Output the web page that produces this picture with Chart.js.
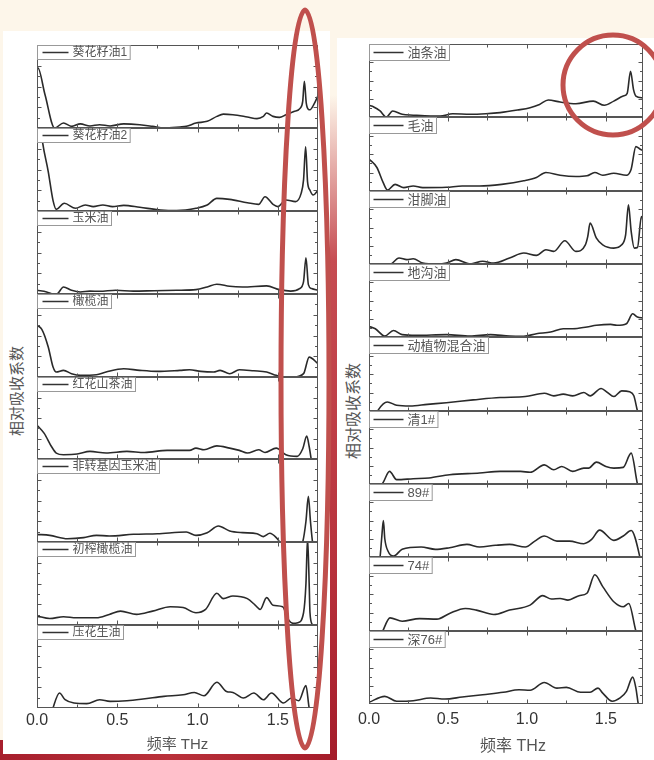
<!DOCTYPE html>
<html>
<head>
<meta charset="utf-8">
<script src="https://cdn.jsdelivr.net/npm/chart.js@4.4.1/dist/chart.umd.min.js"></script>
<style>
  body { margin: 0; width: 654px; height: 760px; overflow: hidden; position: relative; background: #fdf6ea; }
  .abs { position: absolute; }
  .ytitle { position: absolute; transform: translate(-50%, -50%) rotate(-90deg); white-space: nowrap; color: #555; font-family: "Noto Sans CJK SC", sans-serif; }
</style>
</head>
<body>
<div class="abs" style="left:0;top:740px;width:338px;height:20px;background:linear-gradient(90deg,#a71f2d,#b9313a 50%,#a41c2a)"></div>
<div class="abs" style="left:330px;top:95px;width:8px;height:665px;background:linear-gradient(180deg,rgba(196,70,77,0),#c64c52 25%,#b8323c 70%,#a41c2a)"></div>
<div class="abs" style="left:3px;top:31px;width:327px;height:723px;background:#fff"></div>
<div class="abs" style="left:337px;top:38px;width:317px;height:722px;background:#fff"></div>
<div class="ytitle" style="left:15px;top:391px;font-size:15px">相对吸收系数</div>
<div class="ytitle" style="left:352px;top:411px;font-size:16px">相对吸收系数</div>

<script>
// 频率轴范围
const X_MAX_LEFT = 1.75
const X_MAX_RIGHT = 1.735
const xTickLabels = [0, 0.5, 1.0, 1.5]

// 左图
const leftNames = ['葵花籽油1', '葵花籽油2', '玉米油', '橄榄油', '红花山茶油', '非转基因玉米油', '初榨橄榄油', '压花生油']

const sunflower1X = [0, 0.005, 0.05, 0.11, 0.165, 0.215, 0.27, 0.33, 0.39, 0.455, 0.54, 0.64, 0.72, 0.79, 0.89, 0.93, 0.99, 1.06, 1.12, 1.16, 1.22, 1.31, 1.37, 1.41, 1.43, 1.47, 1.51, 1.55, 1.60, 1.64, 1.655, 1.665, 1.677, 1.69, 1.70, 1.725, 1.75]
const sunflower1Y = [2.8, 2.9, 1.6, 0, 0.24, 0.08, 0.2, 0.1, 0.16, 0.1, 0.2, 0.16, 0.08, 0, 0.05, 0.08, 0.24, 0.32, 0.56, 0.67, 0.64, 0.53, 0.45, 0.56, 0.72, 0.56, 0.51, 0.64, 0.8, 0.96, 1.3, 2.25, 1.2, 0.9, 0.88, 1.15, 1.56]

const sunflower2X = [0, 0.035, 0.07, 0.1, 0.12, 0.17, 0.24, 0.30, 0.35, 0.41, 0.47, 0.54, 0.64, 0.77, 0.87, 0.99, 1.06, 1.12, 1.20, 1.31, 1.38, 1.42, 1.47, 1.50, 1.55, 1.61, 1.645, 1.66, 1.673, 1.685, 1.70, 1.72, 1.75]
const sunflower2Y = [5.5, 3.3, 1.9, 0.5, 0.08, 0.37, 0.13, 0.29, 0.21, 0.29, 0.21, 0.27, 0.18, 0.05, 0.02, 0.13, 0.29, 0.61, 0.56, 0.40, 0.32, 0.69, 0.32, 0.21, 0.53, 0.45, 0.85, 1.5, 3.1, 1.4, 1.0, 0.77, 1.0]

const cornX = [0, 0.06, 0.10, 0.125, 0.165, 0.215, 0.27, 0.33, 0.39, 0.49, 0.6, 0.73, 0.87, 0.99, 1.06, 1.12, 1.20, 1.28, 1.43, 1.51, 1.58, 1.635, 1.66, 1.675, 1.69, 1.71, 1.75]
const cornY = [0.18, 0.1, -0.02, 0, 0.34, 0.18, 0.1, 0.14, 0.13, 0.18, 0.14, 0.16, 0.18, 0.21, 0.34, 0.47, 0.37, 0.34, 0.39, 0.21, 0.14, 0.26, 0.6, 1.75, 0.45, 0.26, 0.18]

const oliveX = [0, 0.03, 0.07, 0.10, 0.12, 0.165, 0.215, 0.27, 0.37, 0.43, 0.54, 0.64, 0.75, 0.89, 0.95, 1.02, 1.10, 1.14, 1.20, 1.26, 1.35, 1.43, 1.49, 1.53, 1.60, 1.66, 1.695, 1.75]
const oliveY = [2.49, 2.3, 1.45, 0.48, 0.24, 0.32, 0.16, 0.08, 0.11, 0.24, 0.40, 0.32, 0.27, 0.32, 0.35, 0.27, 0.24, 0.32, 0.16, 0.35, 0.30, 0.24, 0.08, 0, 0, 0.16, 0.96, 0.64]

const camelliaX = [0, 0.045, 0.09, 0.12, 0.165, 0.25, 0.33, 0.43, 0.56, 0.67, 0.81, 0.95, 0.99, 1.04, 1.12, 1.20, 1.26, 1.31, 1.38, 1.42, 1.49, 1.55, 1.62, 1.655, 1.68, 1.695, 1.71, 1.75]
const camelliaY = [1.65, 1.25, 0.61, 0.29, 0.21, 0.24, 0.37, 0.29, 0.37, 0.32, 0.42, 0.42, 0.53, 0.45, 0.64, 0.53, 0.42, 0.29, 0.45, 0.32, 0.53, 0.21, 0.13, 0.5, 1.12, 0.61, -0.1, -1]

const nonGmoCornX = [0, 0.08, 0.19, 0.29, 0.37, 0.45, 0.60, 0.75, 0.93, 0.99, 1.06, 1.13, 1.20, 1.28, 1.37, 1.41, 1.45, 1.49, 1.51, 1.53, 1.60, 1.655, 1.675, 1.69, 1.703, 1.716, 1.75]
const nonGmoCornY = [0.37, 0.32, 0.16, 0.21, 0.32, 0.29, 0.37, 0.40, 0.48, 0.32, 0.45, 0.77, 0.53, 0.45, 0.40, 0.26, 0.42, 0.21, 0, -0.5, -0.8, 0, 1.0, 2.2, 1.0, 0, -1]

const virginOliveX = [0, 0.08, 0.165, 0.245, 0.37, 0.45, 0.52, 0.62, 0.72, 0.83, 0.91, 0.99, 1.05, 1.12, 1.16, 1.22, 1.31, 1.36, 1.39, 1.43, 1.47, 1.53, 1.565, 1.595, 1.625, 1.66, 1.675, 1.685, 1.695, 1.70, 1.715, 1.75]
const virginOliveY = [0.43, 0.31, 0.40, 0.35, 0.35, 0.51, 0.67, 0.51, 0.67, 0.88, 0.84, 0.59, 0.75, 1.53, 1.27, 1.40, 1.27, 0.95, 0.75, 1.32, 0.95, 0.88, 0.27, 0.08, 0.11, 0.59, 2.0, 4.2, 2.0, 0.6, 0, -1]

const peanutX = [0, 0.09, 0.10, 0.14, 0.175, 0.23, 0.31, 0.39, 0.455, 0.56, 0.66, 0.79, 0.91, 0.98, 1.04, 1.12, 1.18, 1.22, 1.285, 1.35, 1.41, 1.46, 1.535, 1.585, 1.63, 1.675, 1.695, 1.75]
const peanutY = [-1.5, -0.3, 0, 0.72, 0.4, 0.24, 0.21, 0.40, 0.32, 0.35, 0.43, 0.56, 0.64, 0.75, 0.59, 1.24, 0.8, 0.75, 0.48, 0.72, 0.4, 0.72, 0.24, 0.48, 0.35, 1.08, 0, -1]

// 右图
const rightNames = ['油条油', '毛油', '泔脚油', '地沟油', '动植物混合油', '清1#', '89#', '74#', '深76#']

const youtiaoX = [0, 0.03, 0.07, 0.11, 0.15, 0.21, 0.28, 0.39, 0.45, 0.53, 0.64, 0.74, 0.83, 0.94, 1.02, 1.08, 1.135, 1.21, 1.31, 1.42, 1.49, 1.55, 1.61, 1.635, 1.656, 1.675, 1.69, 1.735]
const youtiaoY = [0.64, 0.55, 0.33, 0, 0.33, 0.15, 0.1, 0.05, 0.05, 0.18, 0.15, 0.18, 0.24, 0.38, 0.51, 0.69, 0.93, 0.82, 0.73, 0.87, 0.64, 0.87, 1.15, 1.3, 2.5, 1.5, 1.15, 1.05]

const crudeX = [0, 0.05, 0.09, 0.117, 0.165, 0.22, 0.28, 0.34, 0.49, 0.59, 0.70, 0.84, 0.98, 1.06, 1.12, 1.21, 1.31, 1.38, 1.43, 1.48, 1.55, 1.63, 1.66, 1.69, 1.715, 1.735]
const crudeY = [1.73, 1.27, 0.45, 0.05, 0.36, 0.18, 0.27, 0.18, 0.2, 0.27, 0.27, 0.36, 0.55, 0.73, 1.0, 0.85, 0.78, 0.82, 1.0, 0.85, 0.96, 0.85, 1.18, 2.4, 2.27, 2.18]

const swillX = [0, 0.1, 0.14, 0.19, 0.24, 0.28, 0.34, 0.43, 0.49, 0.55, 0.64, 0.72, 0.79, 0.89, 0.98, 1.06, 1.12, 1.17, 1.24, 1.31, 1.37, 1.385, 1.40, 1.44, 1.48, 1.55, 1.60, 1.625, 1.643, 1.66, 1.68, 1.70, 1.725, 1.735]
const swillY = [-0.3, -0.1, 0, 0.33, 0.24, 0.29, 0.05, 0, 0.05, 0.24, 0, 0.15, 0.05, 0.33, 0.6, 0.47, 0.78, 0.69, 1.27, 0.69, 1.05, 1.5, 2.24, 1.42, 1.05, 0.87, 1.05, 1.6, 3.24, 1.8, 0.87, 0.9, 2.6, 2.4]

const gutterX = [0, 0.04, 0.1, 0.155, 0.21, 0.30, 0.49, 0.64, 0.77, 0.89, 0.98, 1.06, 1.15, 1.23, 1.29, 1.38, 1.44, 1.53, 1.57, 1.63, 1.67, 1.70, 1.735]
const gutterY = [0.58, 0.45, 0.05, 0.36, 0.13, 0.09, 0.13, 0.05, 0.13, 0.05, 0.04, 0.18, 0.27, 0.45, 0.45, 0.55, 0.64, 0.69, 0.64, 0.73, 1.27, 1.09, 1.04]

const mixedX = [0, 0.04, 0.059, 0.116, 0.175, 0.26, 0.37, 0.49, 0.66, 0.83, 0.99, 1.11, 1.17, 1.23, 1.29, 1.36, 1.40, 1.47, 1.51, 1.55, 1.60, 1.65, 1.677, 1.70, 1.735]
const mixedY = [-0.6, -0.3, 0.06, 0.49, 0.31, 0.27, 0.36, 0.45, 0.6, 0.73, 0.78, 0.96, 0.82, 0.91, 0.82, 1.0, 0.82, 1.22, 1.0, 0.78, 1.09, 1.04, 0.82, 0, -1]

const qing1X = [0, 0.06, 0.09, 0.13, 0.175, 0.28, 0.38, 0.51, 0.70, 0.83, 0.96, 1.02, 1.11, 1.17, 1.22, 1.29, 1.36, 1.39, 1.44, 1.50, 1.55, 1.61, 1.66, 1.70, 1.735]
const qing1Y = [-1, -0.3, 0.09, 0.69, 0.24, 0.29, 0.33, 0.51, 0.6, 0.69, 0.69, 0.64, 1.05, 0.78, 0.96, 0.69, 0.87, 0.87, 1.2, 0.96, 0.87, 0.91, 1.69, 0, -1]

const no89X = [0, 0.06, 0.07, 0.08, 0.091, 0.10, 0.12, 0.155, 0.21, 0.33, 0.42, 0.51, 0.62, 0.70, 0.80, 0.89, 0.99, 1.05, 1.11, 1.19, 1.27, 1.36, 1.41, 1.46, 1.55, 1.61, 1.66, 1.715, 1.735]
const no89Y = [-1, -0.3, 0, 1.0, 2.0, 1.0, 0.33, 0.05, 0.42, 0.55, 0.42, 0.51, 0.69, 0.55, 0.64, 0.69, 0.55, 0.87, 1.15, 0.87, 0.87, 0.73, 0.96, 1.47, 0.91, 1.15, 1.45, 0, -1]

const no74X = [0, 0.06, 0.087, 0.133, 0.21, 0.32, 0.43, 0.51, 0.61, 0.68, 0.79, 0.89, 1.02, 1.10, 1.155, 1.21, 1.26, 1.33, 1.38, 1.43, 1.48, 1.55, 1.61, 1.645, 1.69, 1.735]
const no74Y = [-1, -0.5, 0, 0.71, 0.53, 0.67, 0.64, 0.95, 1.22, 1.13, 0.89, 1.13, 1.4, 1.91, 1.73, 1.76, 1.67, 1.91, 2.04, 3.04, 2.4, 1.58, 1.31, 1.49, 0, -1]

const shen76X = [0, 0.1, 0.175, 0.28, 0.39, 0.48, 0.59, 0.72, 0.85, 0.95, 1.02, 1.11, 1.19, 1.25, 1.34, 1.40, 1.45, 1.48, 1.54, 1.59, 1.63, 1.67, 1.69, 1.705, 1.735]
const shen76Y = [0.09, 0.42, 0.15, 0.18, 0.33, 0.27, 0.38, 0.51, 0.64, 0.78, 0.75, 1.18, 0.87, 0.91, 0.64, 0.64, 0.87, 0.6, 0.15, 0.33, 0.69, 1.47, 0.87, 0, -1]

const leftSeries = [[sunflower1X, sunflower1Y], [sunflower2X, sunflower2Y], [cornX, cornY], [oliveX, oliveY], [camelliaX, camelliaY], [nonGmoCornX, nonGmoCornY], [virginOliveX, virginOliveY], [peanutX, peanutY]]
const rightSeries = [[youtiaoX, youtiaoY], [crudeX, crudeY], [swillX, swillY], [gutterX, gutterY], [mixedX, mixedY], [qing1X, qing1Y], [no89X, no89Y], [no74X, no74Y], [shen76X, shen76Y]]

// 边框、内向刻度、图例框、底部坐标
const framePlugin = {
  id: 'frame',
  afterDatasetsDraw(chart, args, o) {
    const { ctx, chartArea: a } = chart
    const x = chart.scales.x, y = chart.scales.y
    const L = a.left + 0.5, R = a.right - 0.5, T = a.top + 0.5, B = a.bottom - 0.5
    ctx.save()
    ctx.strokeStyle = '#555'
    ctx.lineWidth = 1
    ctx.beginPath()
    for (let v = 0.25; v < x.max - 0.01; v += 0.25) {
      const px = Math.round(x.getPixelForValue(v)) + 0.5
      const len = Math.abs(v % 0.5) < 0.01 ? 4 : 3
      ctx.moveTo(px, T); ctx.lineTo(px, T + len)
      ctx.moveTo(px, B); ctx.lineTo(px, B - len)
    }
    for (let v = 0.5; v < y.max - 0.01; v += 0.5) {
      const py = Math.round(y.getPixelForValue(v)) + 0.5
      const len = Math.abs(v % 1) < 0.01 ? 4 : 2.5
      ctx.moveTo(L, py); ctx.lineTo(L + len, py)
      ctx.moveTo(R, py); ctx.lineTo(R - len, py)
    }
    ctx.stroke()
    ctx.strokeRect(L, T, R - L, B - T)

    // 图例
    const name = chart.data.datasets[0].label
    ctx.font = o.legendFont
    const tw = ctx.measureText(name).width
    const bw = o.textX + tw + 3
    ctx.fillStyle = '#fff'
    ctx.fillRect(L, T, bw, o.boxH)
    ctx.strokeStyle = '#999'
    ctx.strokeRect(L, T, bw, o.boxH)
    ctx.strokeStyle = '#333'
    ctx.lineWidth = 1.5
    ctx.beginPath()
    ctx.moveTo(L + o.lineX0, T + o.boxH / 2)
    ctx.lineTo(L + o.lineX1, T + o.boxH / 2)
    ctx.stroke()
    ctx.fillStyle = '#555'
    ctx.textBaseline = 'middle'
    ctx.fillText(name, L + o.textX, T + o.boxH / 2 + 0.5)

    if (o.last) {
      ctx.fillStyle = '#333'
      ctx.textAlign = 'center'
      ctx.font = '16px "Liberation Sans", Arial, sans-serif'
      xTickLabels.forEach(v => {
        ctx.fillText(v.toFixed(1), x.getPixelForValue(v), a.bottom + o.labelDy)
      })
      ctx.fillStyle = '#555'
      ctx.font = o.titleFont
      ctx.fillText('频率 THz', (a.left + a.right) / 2 + o.titleDx, a.bottom + o.titleDy)
    }
    ctx.restore()
  }
}

function makePlot(name, xs, ys, left, top, w, h, xMax, o) {
  const pad = 6
  const side = o.last ? 24 : pad
  const bottomPad = o.last ? 60 : pad
  const canvas = document.createElement('canvas')
  canvas.width = w + 2 * side
  canvas.height = h + pad + bottomPad
  canvas.style.cssText = `position:absolute;left:${left - side}px;top:${top - pad}px`
  document.body.appendChild(canvas)
  new Chart(canvas, {
    type: 'line',
    data: {
      datasets: [{
        label: name,
        data: xs.map((v, i) => ({ x: v, y: ys[i] })),
        borderColor: '#2a2a2a',
        borderWidth: 1.6,
        pointRadius: 0,
        cubicInterpolationMode: 'monotone',
        clip: 0
      }]
    },
    options: {
      responsive: false,
      animation: false,
      events: [],
      layout: { padding: { left: side, right: side, top: pad, bottom: bottomPad } },
      plugins: { legend: { display: false }, tooltip: { enabled: false }, frame: o },
      scales: {
        x: { type: 'linear', min: 0, max: xMax, display: false },
        y: { type: 'linear', min: 0, max: 4, display: false }
      }
    },
    plugins: [framePlugin]
  })
}

// 左图：x 37..318，y 45..708
leftNames.forEach((name, i) => {
  const t = Math.round(45 + i * 663 / 8), b = Math.round(45 + (i + 1) * 663 / 8)
  makePlot(name, leftSeries[i][0], leftSeries[i][1], 37, t, 281, b - t, X_MAX_LEFT, {
    legendFont: '12px "Liberation Sans", "Noto Sans CJK SC", sans-serif',
    boxH: 14, lineX0: 5, lineX1: 31, textX: 35,
    last: i === leftNames.length - 1, labelDy: 13, titleDy: 37, titleDx: 0,
    titleFont: '15px "Liberation Sans", "Noto Sans CJK SC", sans-serif'
  })
})

// 右图：x 369..643，y 44..704
rightNames.forEach((name, i) => {
  const t = Math.round(44 + i * 660 / 9), b = Math.round(44 + (i + 1) * 660 / 9)
  makePlot(name, rightSeries[i][0], rightSeries[i][1], 369, t, 274, b - t, X_MAX_RIGHT, {
    legendFont: '13px "Liberation Sans", "Noto Sans CJK SC", sans-serif',
    boxH: 16, lineX0: 4, lineX1: 34, textX: 38,
    last: i === rightNames.length - 1, labelDy: 16, titleDy: 43, titleDx: 7,
    titleFont: '16px "Liberation Sans", "Noto Sans CJK SC", sans-serif'
  })
})
</script>

<svg class="abs" style="left:0;top:0;pointer-events:none" width="654" height="760">
  <ellipse cx="305" cy="379" rx="24" ry="369" fill="none" stroke="#c0504d" stroke-width="5"/>
  <circle cx="613" cy="85" r="50" fill="none" stroke="#c0504d" stroke-width="5"/>
</svg>
</body>
</html>
